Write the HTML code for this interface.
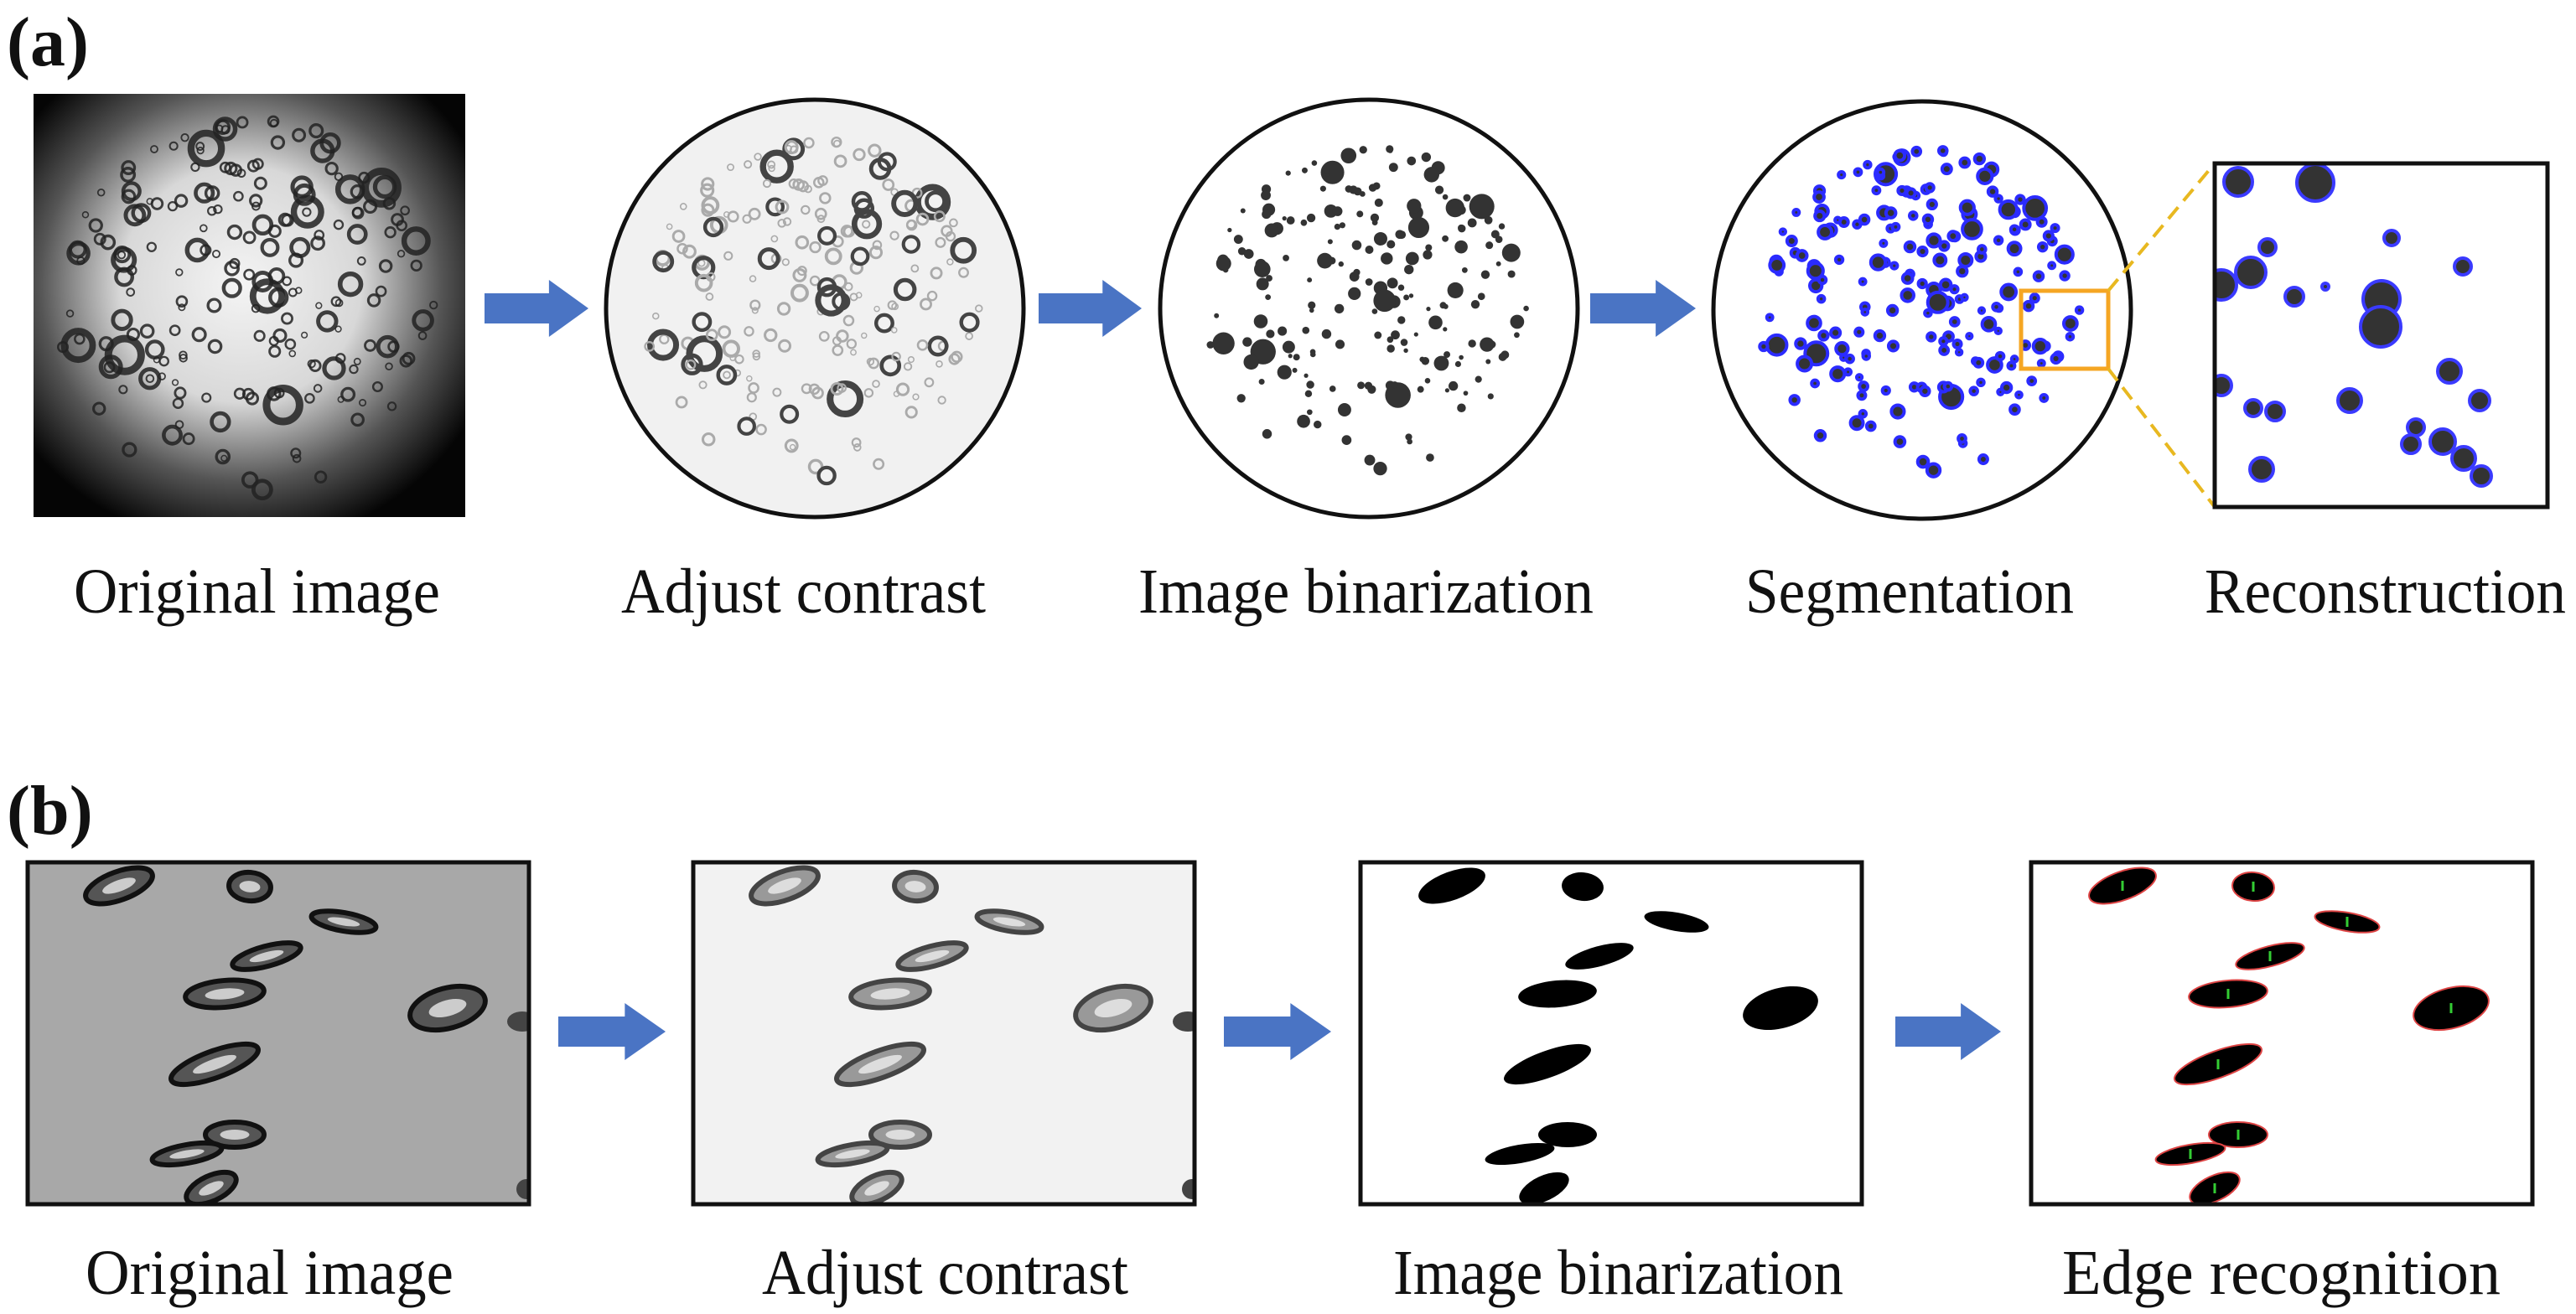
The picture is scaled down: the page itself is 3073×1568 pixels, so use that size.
<!DOCTYPE html>
<html><head><meta charset="utf-8"><style>
html,body{margin:0;padding:0;background:#fff;}
svg{display:block;}
text{font-family:"Liberation Serif","Times New Roman",serif;fill:#111;}
</style></head><body>
<svg id="s" width="3073" height="1568" viewBox="0 0 3073 1568" xmlns="http://www.w3.org/2000/svg">
<defs>
<radialGradient id="g1" cx="0.48" cy="0.45" r="0.62">
<stop offset="0" stop-color="#f4f4f4"/><stop offset="0.45" stop-color="#d8d8d8"/><stop offset="0.75" stop-color="#555"/><stop offset="1" stop-color="#050505"/>
</radialGradient>
<clipPath id="c2"><circle cx="972" cy="368" r="247"/></clipPath>
<clipPath id="c3"><circle cx="1633" cy="368" r="247"/></clipPath>
<clipPath id="c4"><circle cx="2293" cy="370" r="247"/></clipPath>
<clipPath id="cr1"><rect x="40" y="112" width="515" height="505"/></clipPath>
<clipPath id="cz"><rect x="2642" y="195" width="397" height="410"/></clipPath>
</defs>
<text x="8" y="78" font-size="84" font-weight="bold" font-family="Liberation Serif, serif">(a)</text>
<text x="8" y="995" font-size="84" font-weight="bold" font-family="Liberation Serif, serif">(b)</text>

<rect x="40" y="112" width="515" height="505" fill="url(#g1)"/>
<g id="o1" clip-path="url(#cr1)"></g>
<circle cx="972" cy="368" r="249" fill="#f1f1f1" stroke="#111" stroke-width="5"/>
<g id="o2" clip-path="url(#c2)"></g>
<circle cx="1633" cy="368" r="249" fill="#fff" stroke="#111" stroke-width="5"/>
<g id="o3" clip-path="url(#c3)"></g>
<circle cx="2293" cy="370" r="249" fill="#fff" stroke="#111" stroke-width="5"/>
<g id="o4" clip-path="url(#c4)"></g>
<rect x="2411" y="347" width="104" height="93" fill="none" stroke="#f5a623" stroke-width="5"/>
<line x1="2515" y1="347" x2="2642" y2="195" stroke="#e8b820" stroke-width="4" stroke-dasharray="18,10"/>
<line x1="2515" y1="440" x2="2642" y2="605" stroke="#e8b820" stroke-width="4" stroke-dasharray="18,10"/>
<rect x="2642" y="195" width="397" height="410" fill="#fff"/>
<g id="oz" clip-path="url(#cz)"></g>
<rect x="2642" y="195" width="397" height="410" fill="none" stroke="#111" stroke-width="5"/>

<g id="arrows"></g>

<g font-size="76" font-family="Liberation Serif, serif" lengthAdjust="spacingAndGlyphs">
<text x="88" y="731" textLength="437" lengthAdjust="spacingAndGlyphs">Original image</text>
<text x="741" y="731" textLength="435" lengthAdjust="spacingAndGlyphs">Adjust contrast</text>
<text x="1358" y="731" textLength="543" lengthAdjust="spacingAndGlyphs">Image binarization</text>
<text x="2082" y="731" textLength="392" lengthAdjust="spacingAndGlyphs">Segmentation</text>
<text x="2630" y="731" textLength="431" lengthAdjust="spacingAndGlyphs">Reconstruction</text>
<text x="102" y="1544" textLength="439" lengthAdjust="spacingAndGlyphs">Original image</text>
<text x="909" y="1544" textLength="437" lengthAdjust="spacingAndGlyphs">Adjust contrast</text>
<text x="1662" y="1544" textLength="537" lengthAdjust="spacingAndGlyphs">Image binarization</text>
<text x="2460" y="1544" textLength="523" lengthAdjust="spacingAndGlyphs">Edge recognition</text>
</g>
<g id="rowb"></g>
</svg>
<script>
var NS="http://www.w3.org/2000/svg";
function el(p,t,a){var e=document.createElementNS(NS,t);for(var k in a)e.setAttribute(k,a[k]);p.appendChild(e);return e;}
var seed=7;function rnd(){seed=(seed*16807)%2147483647;return seed/2147483647;}
var ar=document.getElementById('arrows');
[[578,702,368],[1239,1362,368],[1897,2023,368],[666,794,1231],[1460,1588,1231],[2261,2387,1231]].forEach(function(a){
var x0=a[0],x1=a[1],y=a[2],L=x1-x0,hx=x0+L*0.62;
el(ar,'polygon',{points:[x0,y-18,hx,y-18,hx,y-34,x1,y,hx,y+34,hx,y+18,x0,y+18].join(' '),fill:'#4a74c4'});});
var pts=[];for(var i=0;i<200;i++){var a=rnd()*6.283,r=Math.sqrt(rnd())*0.85;var s=rnd();var rad=s<0.75?3+rnd()*4:(s<0.95?6+rnd()*5:11+rnd()*7);pts.push([Math.cos(a)*r,Math.sin(a)*r,rad]);}
var o1=document.getElementById('o1'),o2=document.getElementById('o2'),o3=document.getElementById('o3'),o4=document.getElementById('o4');
pts.forEach(function(p){
el(o1,'circle',{cx:297+p[0]*270,cy:364+p[1]*265,r:p[2]*1.1,fill:'none',stroke:'#222','stroke-width':p[2]*0.5,opacity:0.85});
el(o2,'circle',{cx:972+p[0]*240,cy:368+p[1]*240,r:p[2],fill:'none',stroke:p[2]>9?'#444':'#aaa','stroke-width':p[2]*0.45});
el(o3,'circle',{cx:1633+p[0]*230,cy:368+p[1]*230,r:p[2]*0.85,fill:'#333'});
el(o4,'circle',{cx:2293+p[0]*230,cy:370+p[1]*230,r:p[2]*0.7+1,fill:'#333',stroke:'#2b2bff','stroke-width':4});
});
var oz=document.getElementById('oz');
[[2670,217,17],[2685,325,18],[2762,218,22],[2705,295,10],[2737,354,11],[2774,342,4],[2853,284,9],[2841,357,22],[2840,390,24],[2938,318,10],[2922,443,14],[2958,478,12],[2688,487,10],[2714,491,11],[2882,510,10],[2876,530,11],[2914,527,15],[2939,547,14],[2698,560,14],[2706,633,20],[2960,568,12],[2650,340,18],[2650,460,12],[2803,478,14]].forEach(function(c){
el(oz,'circle',{cx:c[0],cy:c[1],r:c[2],fill:'#333',stroke:'#3a3aff','stroke-width':4});});
var rb=document.getElementById('rowb');
var blobs=[[109,28,42,17,-20],[265,29,25,17,5],[377,71,39,11,10],[285,112,42,12,-15],[235,157,47,16,-5],[501,174,46,24,-15],[223,241,55,16,-20],[247,325,35,15,0],[190,348,42,11,-10],[219,389,32,15,-25]];
var xs=[33,827,1623,2423];
xs.forEach(function(x,k){
var y=1029;
var bg=['#a8a8a8','#f2f2f2','#fff','#fff'][k];
el(rb,'rect',{x:x,y:y,width:598,height:408,fill:bg});
var g=el(rb,'g',{});
var cp=el(rb,'clipPath',{id:'cb'+k});el(cp,'rect',{x:x,y:y,width:598,height:408});
g.setAttribute('clip-path','url(#cb'+k+')');
blobs.forEach(function(b){
var cx=x+b[0],cy=y+b[1];
var tr='rotate('+b[4]+' '+cx+' '+cy+')';
if(k<2){
el(g,'ellipse',{cx:cx,cy:cy,rx:b[2],ry:b[3],fill:k==0?'#555':'#999',stroke:k==0?'#111':'#444','stroke-width':6,transform:tr});
el(g,'ellipse',{cx:cx,cy:cy,rx:b[2]*0.5,ry:b[3]*0.4,fill:k==0?'#ccc':'#ddd',transform:tr});
}else{
el(g,'ellipse',{cx:cx,cy:cy,rx:b[2],ry:b[3],fill:'#000',stroke:k==3?'#d44':'none','stroke-width':2,transform:tr});
if(k==3)el(g,'line',{x1:cx,y1:cy-6,x2:cx,y2:cy+6,stroke:'#3c3','stroke-width':3});
}});
if(k<2){el(g,'ellipse',{cx:x+590,cy:y+190,rx:18,ry:12,fill:'#444'});el(g,'ellipse',{cx:x+595,cy:y+390,rx:12,ry:12,fill:'#444'});}
el(rb,'rect',{x:x,y:y,width:598,height:408,fill:'none',stroke:'#111','stroke-width':5});
});
</script>
</body></html>
